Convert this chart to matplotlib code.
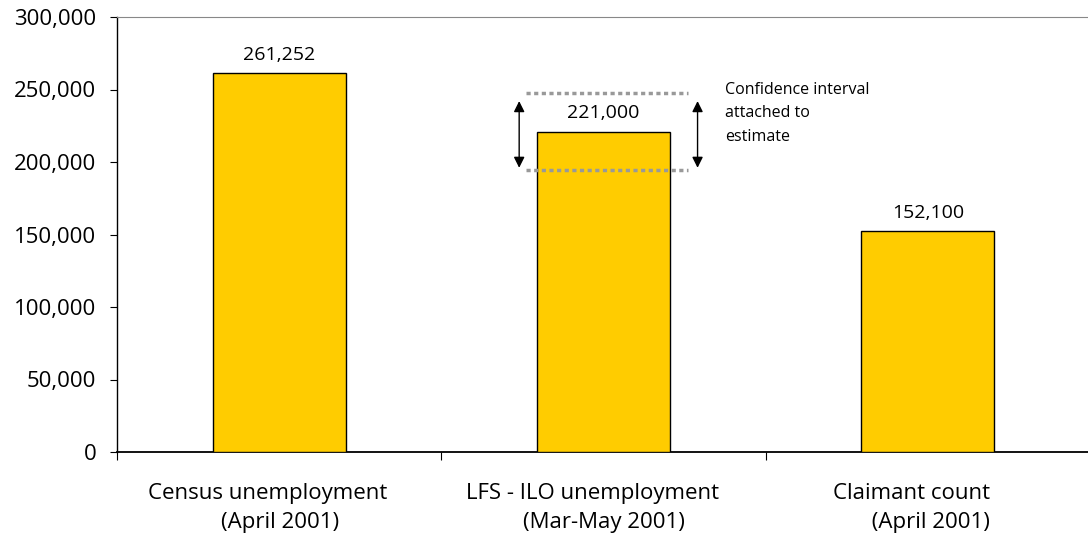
import matplotlib.pyplot as plt
import numpy as np
from matplotlib.ticker import FuncFormatter
from matplotlib.transforms import ScaledTranslation

# data
categories = ['Census unemployment\n    (April 2001)',
              'LFS - ILO unemployment\n    (Mar-May 2001)',
              'Claimant count  \n     (April 2001)']
values = [261252, 221000, 152100]
value_labels = ['261,252', '221,000', '152,100']
ci_low = 194500
ci_high = 247500
ci_text = 'Confidence interval\nattached to\nestimate'

plt.rcParams['font.family'] = ['Open Sans', 'DejaVu Sans']

fig = plt.figure(figsize=(10.88, 5.37), dpi=100)
ax = fig.add_axes([117 / 1088, 85 / 537, 973 / 1088, 435 / 537])

x = np.arange(len(values))
ax.bar(x, values, width=0.41, color='#FFCC00', edgecolor='black', linewidth=1.0, zorder=3)

for xi, v, lab in zip(x, values, value_labels):
    ax.text(xi, v + 6500, lab, ha='center', va='bottom', fontsize=14)

# confidence interval markers round the LFS bar
ci_idx = 1
ax.hlines([ci_low, ci_high], ci_idx - 0.24, ci_idx + 0.26, colors='#999999',
          linestyles=(0, (1.2, 1.0)), linewidth=2.5, zorder=4)
for dx in (-0.26, 0.29):
    ax.annotate('', xy=(ci_idx + dx, ci_high - 5500), xytext=(ci_idx + dx, ci_low + 1500),
                arrowprops=dict(arrowstyle='<|-|>', color='black', lw=1.0,
                                mutation_scale=16, shrinkA=0, shrinkB=0))
ax.text(ci_idx + 0.375, 255000, ci_text, ha='left', va='top', fontsize=11.5, linespacing=1.6)

ax.set_xlim(-0.5, 2.5)
ax.set_ylim(0, 300000)
ax.set_yticks(np.arange(0, 300001, 50000))
ax.yaxis.set_major_formatter(FuncFormatter(lambda v, p: f'{int(v):,}'))
ax.tick_params(axis='y', direction='out', length=5, labelsize=16, pad=10)

ax.set_xticks([-0.5, 0.5, 1.5, 2.5])
ax.set_xticklabels([])
ax.set_xticks(x, minor=True)
ax.set_xticklabels(categories, minor=True, fontsize=16, linespacing=1.5)
ax.tick_params(axis='x', which='major', direction='out', length=6)
ax.tick_params(axis='x', which='minor', length=0, pad=22)
shift = ScaledTranslation(-11 / 100, 0, fig.dpi_scale_trans)
for lab in ax.get_xticklabels(minor=True):
    lab.set_transform(lab.get_transform() + shift)

ax.spines['right'].set_visible(False)
ax.spines['top'].set_color('#888888')
ax.spines['left'].set_linewidth(1.0)
ax.spines['bottom'].set_linewidth(1.3)

fig.savefig('out.png', dpi=100)
